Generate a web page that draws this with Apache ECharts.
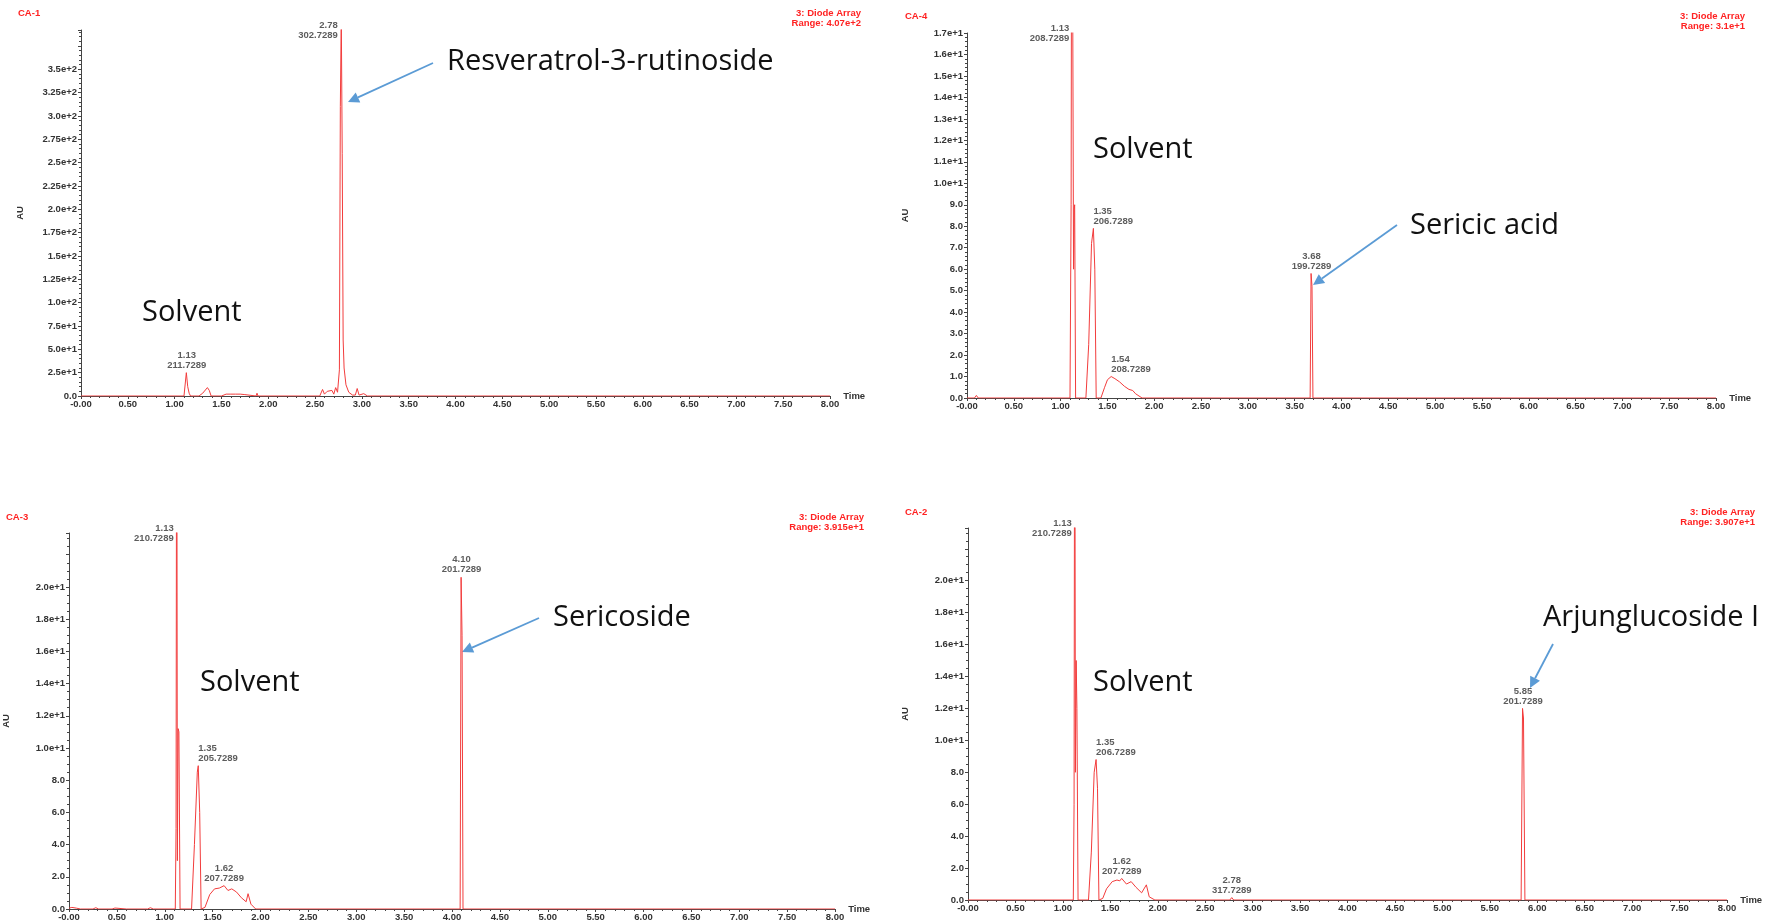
<!DOCTYPE html>
<html><head><meta charset="utf-8">
<script src="https://cdn.jsdelivr.net/npm/echarts@6/dist/echarts.min.js"></script>
<style>html,body{margin:0;padding:0;background:#fff}#c{width:1769px;height:923px}</style>
</head><body><div id="c"></div>
<script>
// ---------- DATA ----------
const xTickLabels = ['-0.00','0.50','1.00','1.50','2.00','2.50','3.00','3.50','4.00','4.50','5.00','5.50','6.00','6.50','7.00','7.50','8.00'];

// CA-1
const ca1Time = [0,1.10,1.115,1.125,1.13,1.14,1.155,1.17,1.26,1.30,1.35,1.37,1.39,1.50,1.51,1.55,1.60,1.65,1.70,1.75,1.76,1.87,1.88,1.89,2.55,2.58,2.60,2.63,2.65,2.68,2.70,2.72,2.74,2.76,2.77,2.78,2.79,2.80,2.81,2.83,2.86,2.90,2.93,2.95,2.97,3.02,3.04,3.06,8.0];
const ca1AU   = [0,0,15,25,24,10,3,0,0,3,9,6,0,0,2,2,2,2,2,1.5,0,0,3,0,0,7,2,5,3,6,2,9,4,28,310,407,260,60,30,12,4,1,1,8,1,2.5,0.5,0,0];
const ca1PeakTime = [1.13, 2.78];
const ca1PeakAU   = [25, 407];
const ca1PeakWl   = ['211.7289','302.7289'];
const ca1YLabels  = ['0.0','2.5e+1','5.0e+1','7.5e+1','1.0e+2','1.25e+2','1.5e+2','1.75e+2','2.0e+2','2.25e+2','2.5e+2','2.75e+2','3.0e+2','3.25e+2','3.5e+2'];

// CA-4
const ca4Time = [0,0.08,0.10,0.12,1.10,1.112,1.12,1.13,1.138,1.145,1.15,1.16,1.27,1.30,1.33,1.35,1.365,1.38,1.43,1.47,1.50,1.54,1.58,1.63,1.68,1.73,1.77,1.80,1.87,3.665,3.675,3.685,3.695,8.0];
const ca4AU   = [0,0,0.12,0,0,9,31,31,6,8.8,9,0,0,2.5,7.2,7.9,6,0,0,0.5,0.85,1.0,0.9,0.75,0.55,0.4,0.35,0.2,0,0,5.8,5.2,0,0];
const ca4PeakTime = [1.13, 1.35, 1.54, 3.68];
const ca4PeakAU   = [31, 7.9, 1.0, 5.8];
const ca4PeakWl   = ['208.7289','206.7289','208.7289','199.7289'];
const ca4YLabels  = ['0.0','1.0','2.0','3.0','4.0','5.0','6.0','7.0','8.0','9.0','1.0e+1','1.1e+1','1.2e+1','1.3e+1','1.4e+1','1.5e+1','1.6e+1','1.7e+1'];

// CA-3
const ca3Time = [0,0.03,0.08,0.12,0.25,0.28,0.31,0.45,0.48,0.6,0.62,0.82,0.85,0.88,1.11,1.118,1.125,1.132,1.14,1.148,1.16,1.28,1.31,1.34,1.35,1.365,1.38,1.42,1.47,1.52,1.57,1.62,1.66,1.70,1.75,1.80,1.85,1.87,1.90,1.95,4.085,4.095,4.105,4.115,8.0];
const ca3AU   = [0.05,0.1,0.05,0,0,0.08,0,0,0.06,0,0.05,0,0.08,0,0,5,39.15,3,11.2,11,0,0,4,8.5,8.9,6,0,0.1,0.9,1.25,1.3,1.45,1.15,1.25,1.05,0.7,0.45,0.95,0.3,0,0,20.6,17,0,0];
const ca3PeakTime = [1.13, 1.35, 1.62, 4.10];
const ca3PeakAU   = [39.15, 8.9, 1.45, 20.6];
const ca3PeakWl   = ['210.7289','205.7289','207.7289','201.7289'];
const ca3YLabels  = ['0.0','2.0','4.0','6.0','8.0','1.0e+1','1.2e+1','1.4e+1','1.6e+1','1.8e+1','2.0e+1'];

// CA-2
const ca2Time = [0,1.11,1.118,1.125,1.132,1.14,1.148,1.16,1.27,1.30,1.33,1.35,1.365,1.38,1.42,1.46,1.52,1.57,1.60,1.62,1.67,1.72,1.77,1.83,1.88,1.91,1.97,2.76,2.78,2.80,5.83,5.845,5.855,5.87,8.0];
const ca2AU   = [0,0,6,39.07,8,15,12,0,0,3,8.0,8.8,7,0,0.1,0.7,1.15,1.25,1.2,1.35,1.0,1.15,0.8,0.45,0.95,0.2,0,0,0.15,0,0,12.0,11.4,0,0];
const ca2PeakTime = [1.13, 1.35, 1.62, 2.78, 5.85];
const ca2PeakAU   = [39.07, 8.8, 1.35, 0.15, 12.0];
const ca2PeakWl   = ['210.7289','206.7289','207.7289','317.7289','201.7289'];
const ca2YLabels  = ['0.0','2.0','4.0','6.0','8.0','1.0e+1','1.2e+1','1.4e+1','1.6e+1','1.8e+1','2.0e+1'];

const panelNames  = ['CA-1','CA-4','CA-3','CA-2'];
const panelRanges = ['Range: 4.07e+2','Range: 3.1e+1','Range: 3.915e+1','Range: 3.907e+1'];
const compounds   = ['Resveratrol-3-rutinoside','Sericic acid','Sericoside','Arjunglucoside I'];

// ---------- LAYOUT / STYLE ----------
const panels = [
  {t:ca1Time, v:ca1AU, pt:ca1PeakTime, pv:ca1PeakAU, pw:ca1PeakWl, yl:ca1YLabels, yMax:392, yInt:25, yMinor:5,
   grid:{left:81, top:30, width:749, height:366}, lab:['c','r'],
   tag:[18,13], rng:[861,13], solvent:[142,313], comp:[447,62], arrow:[433,63,348,102], au:56},
  {t:ca4Time, v:ca4AU, pt:ca4PeakTime, pv:ca4PeakAU, pw:ca4PeakWl, yl:ca4YLabels, yMax:17, yInt:1, yMinor:5,
   grid:{left:967, top:33, width:749, height:365}, lab:['r','l','l','c'],
   tag:[905,16], rng:[1745,16], solvent:[1093,150], comp:[1410,226], arrow:[1397,225,1313,285], au:57},
  {t:ca3Time, v:ca3AU, pt:ca3PeakTime, pv:ca3PeakAU, pw:ca3PeakWl, yl:ca3YLabels, yMax:23.35, yInt:2, yMinor:4,
   grid:{left:68, top:533, width:767, height:376}, lab:['r','l','c','c'],
   tag:[6,517], rng:[864,517], solvent:[200,683], comp:[553,618], arrow:[539,618,462,652], au:58},
  {t:ca2Time, v:ca2AU, pt:ca2PeakTime, pv:ca2PeakAU, pw:ca2PeakWl, yl:ca2YLabels, yMax:23.3, yInt:2, yMinor:4,
   grid:{left:968, top:528, width:759, height:372}, lab:['r','l','c','c','c'],
   tag:[905,512], rng:[1755,512], solvent:[1093,683], comp:[1543,618], arrow:[1553,644,1530,688], au:58}
];

const SMALL = {fontFamily:'Liberation Sans, Arial, sans-serif', fontSize:9.5, fontWeight:'bold', color:'#333'};
const TRACE = '#f23c3c';
const AXIS = '#444';
const BLUE = '#5B9BD5';

const grids=[], xAxes=[], yAxes=[], series=[], graphics=[];
panels.forEach((p,i)=>{
  grids.push(Object.assign({}, p.grid));
  xAxes.push({
    type:'value', gridIndex:i, min:0, max:8, interval:0.5,
    name:'Time', nameLocation:'end', nameGap:3,
    nameTextStyle:Object.assign({}, SMALL, {verticalAlign:'middle', align:'left'}),
    axisLine:{show:true, onZero:false, lineStyle:{color:AXIS, width:1}},
    axisTick:{show:true, length:3, lineStyle:{color:AXIS}},
    minorTick:{show:true, splitNumber:5, length:2, lineStyle:{color:AXIS}},
    splitLine:{show:false}, minorSplitLine:{show:false},
    axisLabel:Object.assign({}, SMALL, {margin:3, showMinLabel:true, showMaxLabel:true,
      formatter:(val)=>{const k=Math.round(val/0.5); return Math.abs(k*0.5-val)<1e-6 && k<xTickLabels.length ? xTickLabels[k] : '';}})
  });
  yAxes.push({
    type:'value', gridIndex:i, min:0, max:p.yMax, interval:p.yInt,
    name:'AU', nameLocation:'middle', nameRotate:90, nameGap:p.au,
    nameTextStyle:Object.assign({}, SMALL),
    axisLine:{show:true, lineStyle:{color:AXIS, width:1}},
    axisTick:{show:true, length:3, lineStyle:{color:AXIS}},
    minorTick:{show:true, splitNumber:p.yMinor, length:2, lineStyle:{color:AXIS}},
    splitLine:{show:false}, minorSplitLine:{show:false},
    axisLabel:Object.assign({}, SMALL, {margin:4,
      formatter:(val)=>{const k=Math.round(val/p.yInt); return Math.abs(k*p.yInt-val)<1e-6 && k<p.yl.length ? p.yl[k] : '';}})
  });
  series.push({
    type:'line', xAxisIndex:i, yAxisIndex:i, showSymbol:false, symbol:'none', clip:true,
    silent:true, animation:false,
    lineStyle:{color:TRACE, width:1},
    data:p.t.map((t,k)=>[t, p.v[k]])
  });
  series.push({
    type:'scatter', xAxisIndex:i, yAxisIndex:i, symbolSize:1, silent:true, animation:false,
    itemStyle:{color:'rgba(0,0,0,0)'}, clip:false,
    data:p.pt.map((t,k)=>{
      const st = p.lab[k];
      const lbl = Object.assign({}, SMALL, {show:true, lineHeight:10,
        formatter: t.toFixed(2)+'\n'+p.pw[k]});
      if(st==='r'){ lbl.position='left'; lbl.distance=3; lbl.align='right'; }
      else if(st==='l'){ lbl.position='top'; lbl.distance=2; lbl.align='left'; }
      else { lbl.position='top'; lbl.distance=2; }
      return {value:[t, Math.min(p.pv[k], p.yMax)], label:lbl};
    })
  });
  // panel tag & range
  graphics.push({type:'text', x:p.tag[0], y:p.tag[1], silent:true,
    style:{text:panelNames[i], fill:'#f22', font:'bold 9.5px Liberation Sans, Arial, sans-serif', align:'left', verticalAlign:'middle'}});
  graphics.push({type:'text', x:p.rng[0], y:p.rng[1]-5, silent:true,
    style:{text:'3: Diode Array\n'+panelRanges[i], fill:'#f22', font:'bold 9.5px Liberation Sans, Arial, sans-serif', lineHeight:10, align:'right', verticalAlign:'top'}});
  // annotations
  graphics.push({type:'text', x:p.solvent[0], y:p.solvent[1], silent:true,
    style:{text:'Solvent', fill:'#111', font:'29px Open Sans, sans-serif', align:'left', verticalAlign:'middle'}});
  graphics.push({type:'text', x:p.comp[0], y:p.comp[1], silent:true,
    style:{text:compounds[i], fill:'#111', font:'29px Open Sans, sans-serif', align:'left', verticalAlign:'middle'}});
  const [x1,y1,x2,y2] = p.arrow;
  const ang = Math.atan2(y2-y1, x2-x1), L=11, W=5.5;
  const bx = x2 - L*Math.cos(ang), by = y2 - L*Math.sin(ang);
  const px = -Math.sin(ang)*W, py = Math.cos(ang)*W;
  graphics.push({type:'line', silent:true, shape:{x1:x1,y1:y1,x2:bx,y2:by}, style:{stroke:BLUE, lineWidth:1.8}});
  graphics.push({type:'polygon', silent:true, shape:{points:[[x2,y2],[bx+px,by+py],[bx-px,by-py]]}, style:{fill:BLUE}});
});

const chart = echarts.init(document.getElementById('c'), null, {renderer:'canvas'});
chart.setOption({
  animation:false,
  backgroundColor:'#fff',
  grid:grids, xAxis:xAxes, yAxis:yAxes, series:series, graphic:graphics
});
</script></body></html>
